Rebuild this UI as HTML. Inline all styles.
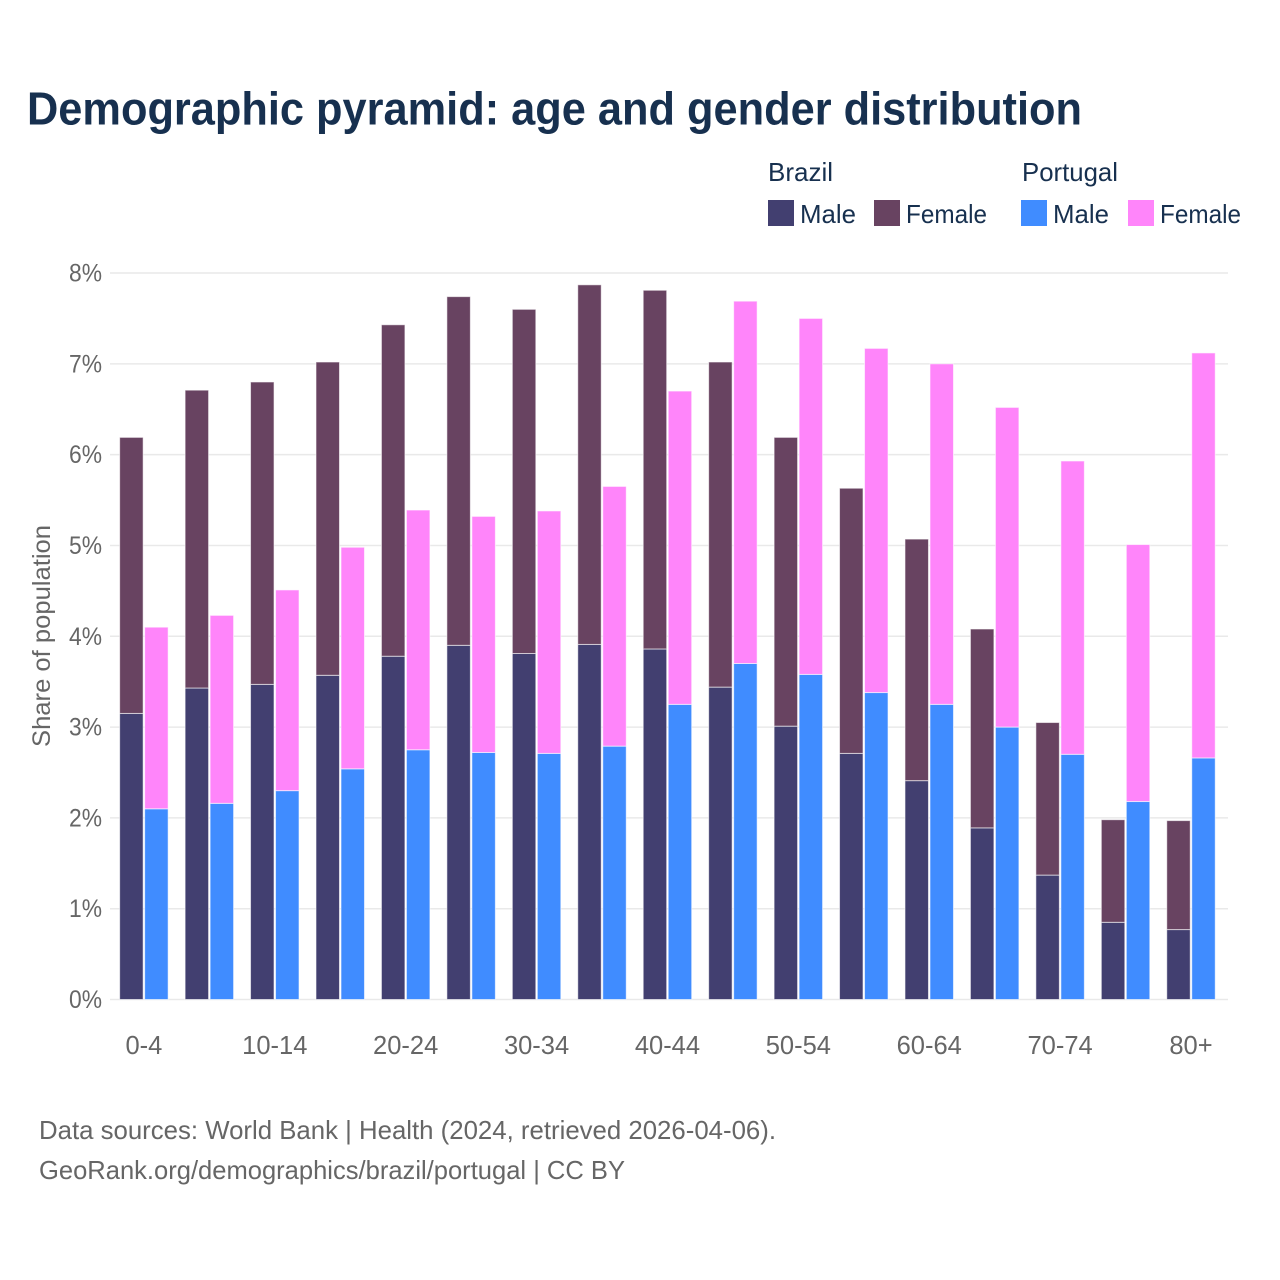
<!DOCTYPE html>
<html lang="en">
<head>
<meta charset="utf-8">
<title>Demographic pyramid: age and gender distribution</title>
<style>
html,body{margin:0;padding:0;background:#fff;}
svg{display:block;font-family:"Liberation Sans",sans-serif;}
</style>
</head>
<body>
<svg id="chart" xmlns="http://www.w3.org/2000/svg" width="1280" height="1280" viewBox="0 0 1280 1280">
  <rect x="0" y="0" width="1280" height="1280" fill="#ffffff"/>
  <text x="27" y="124.5" font-size="46" font-weight="700" fill="#17304f" textLength="1055" lengthAdjust="spacingAndGlyphs">Demographic pyramid: age and gender distribution</text>

  <g font-size="26" fill="#17304f">
    <text x="768" y="181" textLength="65" lengthAdjust="spacingAndGlyphs">Brazil</text>
    <text x="1022" y="181" textLength="96" lengthAdjust="spacingAndGlyphs">Portugal</text>
    <g>
      <rect x="768" y="200" width="26" height="26" fill="#423f70"/>
      <text x="800" y="223" textLength="56" lengthAdjust="spacingAndGlyphs">Male</text>
    </g>
    <g>
      <rect x="874" y="200" width="26" height="26" fill="#684361"/>
      <text x="906" y="223" textLength="81" lengthAdjust="spacingAndGlyphs">Female</text>
    </g>
    <g>
      <rect x="1021" y="200" width="26" height="26" fill="#408cff"/>
      <text x="1053" y="223" textLength="56" lengthAdjust="spacingAndGlyphs">Male</text>
    </g>
    <g>
      <rect x="1128" y="200" width="26" height="26" fill="#ff85fa"/>
      <text x="1160" y="223" textLength="81" lengthAdjust="spacingAndGlyphs">Female</text>
    </g>
  </g>

  <g id="grid"></g>
  <g id="yticks"></g>
  <text transform="translate(50,636) rotate(-90)" text-anchor="middle" font-size="25" fill="#666666" textLength="222" lengthAdjust="spacingAndGlyphs">Share of population</text>
  <g id="bars"></g>
  <g id="xticks"></g>

  <g font-size="26" fill="#666666">
    <text x="39" y="1139" textLength="737" lengthAdjust="spacingAndGlyphs">Data sources: World Bank | Health (2024, retrieved 2026-04-06).</text>
    <text x="39" y="1179" textLength="586" lengthAdjust="spacingAndGlyphs">GeoRank.org/demographics/brazil/portugal | CC BY</text>
  </g>
</svg>
<script>
const categories = ["0-4","5-9","10-14","15-19","20-24","25-29","30-34","35-39","40-44","45-49","50-54","55-59","60-64","65-69","70-74","75-79","80+"];
const brazilMale = [3.15,3.43,3.47,3.57,3.78,3.90,3.81,3.91,3.86,3.44,3.01,2.71,2.41,1.89,1.37,0.85,0.77];
const brazilFemale = [3.04,3.28,3.33,3.45,3.65,3.84,3.79,3.96,3.95,3.58,3.18,2.92,2.66,2.19,1.68,1.13,1.20];
const portugalMale = [2.10,2.16,2.30,2.54,2.75,2.72,2.71,2.79,3.25,3.70,3.58,3.38,3.25,3.00,2.70,2.18,2.66];
const portugalFemale = [2.00,2.07,2.21,2.44,2.64,2.60,2.67,2.86,3.45,3.99,3.92,3.79,3.75,3.52,3.23,2.83,4.46];
const yTickValues = [0,1,2,3,4,5,6,7,8];
const xTickLabels = ["0-4","10-14","20-24","30-34","40-44","50-54","60-64","70-74","80+"];

const NS = "http://www.w3.org/2000/svg";
const plotLeft = 110, plotRight = 1228, yZero = 999.5, yEight = 273;
const firstCenter = 143.9, lastCenter = 1191;
const barWidth = 23.5, barGap = 1.5;

function yScale(v) { return yZero + (yEight - yZero) * v / 8; }
function xScale(i) { return firstCenter + (lastCenter - firstCenter) * i / (categories.length - 1); }

function drawSegment(parent, x, base, value, fill) {
  const r = document.createElementNS(NS, "rect");
  r.setAttribute("x", x);
  r.setAttribute("y", yScale(base + value));
  r.setAttribute("width", barWidth);
  r.setAttribute("height", yScale(base) - yScale(base + value));
  r.setAttribute("fill", fill);
  r.setAttribute("stroke", "#ffffff");
  r.setAttribute("stroke-width", "1");
  r.setAttribute("stroke-opacity", "0.6");
  parent.appendChild(r);
  return r;
}

const grid = document.getElementById("grid");
const yticks = document.getElementById("yticks");
yTickValues.forEach(function (v) {
  const line = document.createElementNS(NS, "line");
  
  
  line.setAttribute("x1", plotLeft);
  line.setAttribute("x2", plotRight);
  line.setAttribute("y1", yScale(v));
  line.setAttribute("y2", yScale(v));
  line.setAttribute("stroke", "#e9e9e9");
  line.setAttribute("stroke-width", "1.5");
  grid.appendChild(line);

  const t = document.createElementNS(NS, "text");
  
  
  t.setAttribute("x", 102);
  t.setAttribute("y", yScale(v) + 8.5);
  t.setAttribute("text-anchor", "end");
  t.setAttribute("font-size", "25");
  t.setAttribute("fill", "#666666");
  t.setAttribute("textLength", "33");
  t.setAttribute("lengthAdjust", "spacingAndGlyphs");
  t.textContent = v + "%";
  yticks.appendChild(t);
});

const bars = document.getElementById("bars");
categories.forEach(function (cat, i) {
  const c = xScale(i);
  const bx = c - barGap / 2 - barWidth;
  const px = c + barGap / 2;

  const bm = drawSegment(bars, bx, 0, brazilMale[i], "#423f70");
  
  

  const bf = drawSegment(bars, bx, brazilMale[i], brazilFemale[i], "#684361");
  
  

  const pm = drawSegment(bars, px, 0, portugalMale[i], "#408cff");
  
  

  const pf = drawSegment(bars, px, portugalMale[i], portugalFemale[i], "#ff85fa");
  
  
});

const xticks = document.getElementById("xticks");
xTickLabels.forEach(function (label) {
  const t = document.createElementNS(NS, "text");
  
  
  t.setAttribute("x", xScale(categories.indexOf(label)));
  t.setAttribute("y", 1054);
  t.setAttribute("text-anchor", "middle");
  t.setAttribute("font-size", "25.5");
  t.setAttribute("fill", "#666666");
  t.textContent = label;
  xticks.appendChild(t);
});
</script>
</body>
</html>
